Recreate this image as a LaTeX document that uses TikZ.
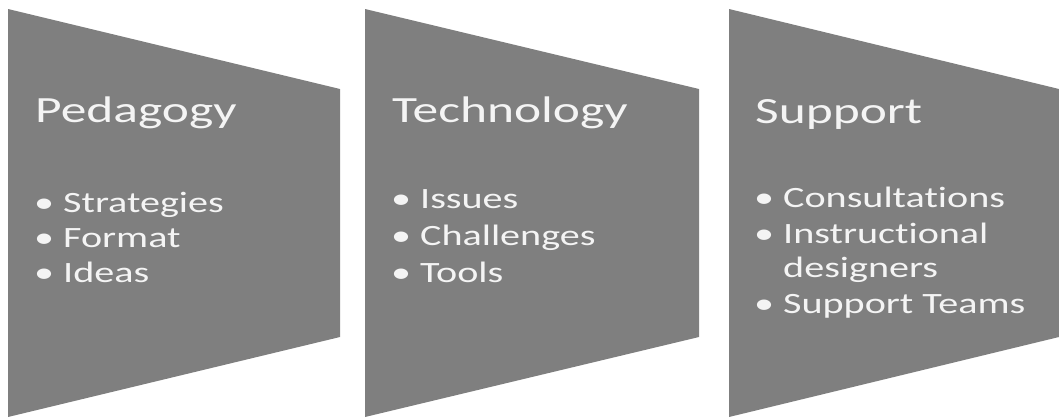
\documentclass[tikz,border=0pt]{standalone}
\usepackage{fontspec}
\setmainfont{Carlito}
\newfontfamily\headfont[FakeStretch=1.39, Ligatures=NoCommon]{Carlito}
\newfontfamily\panelfont[FakeStretch=1.36, Ligatures=NoCommon]{Carlito}
\usepackage{tikz}
\definecolor{panelgray}{HTML}{7F7F7F}
\definecolor{paneltext}{HTML}{F4F4F4}
\tikzset{
	panel/.style={fill=panelgray},
	heading/.style={anchor=base west, inner sep=0pt, text=paneltext, font=\headfont\fontsize{37}{40}\selectfont},
	item/.style={anchor=base west, inner sep=0pt, text=paneltext, font=\panelfont\fontsize{29.5}{36}\selectfont},
}
\newcommand{\bul}{\llap{\textbullet\hspace{9pt}}}

\begin{document}
\begin{tikzpicture}[x=1pt, y=-1pt]
		%%%%% START %%%%%
		\useasboundingbox (0, 0) rectangle (1059, 418);
		
		% three tapering panels
		\fill[panel] (8, 9) -- (340, 89) -- (340, 337) -- (8, 417) -- cycle;
		\fill[panel] (365, 9) -- (699, 89) -- (699, 337) -- (365, 417) -- cycle;
		\fill[panel] (729, 9) -- (1059, 89) -- (1059, 337) -- (729, 417) -- cycle;
		
		% first panel
		\node[heading] (ped) at (35, 122) {Pedagogy};
		\node[item] (ped1) at (63, 212) {\bul Strategies};
		\node[item] (ped2) at (63, 247) {\bul Format};
		\node[item] (ped3) at (63, 282) {\bul Ideas};
		
		% second panel
		\node[heading] (tech) at (392, 122) {Technology};
		\node[item] (tech1) at (420, 208) {\bul Issues};
		\node[item] (tech2) at (420, 245) {\bul Challenges};
		\node[item] (tech3) at (420, 282) {\bul Tools};
		
		% third panel
		\node[heading] (sup) at (755, 123) {Support};
		\node[item] (sup1) at (783, 207) {\bul Consultations};
		\node[item] (sup2) at (783, 243) {\bul Instructional};
		\node[item] (sup2b) at (783, 277) {designers};
		\node[item] (sup3) at (783, 313) {\bul Support Teams};
		
		%%%%% END %%%%%
\end{tikzpicture}
\end{document}
